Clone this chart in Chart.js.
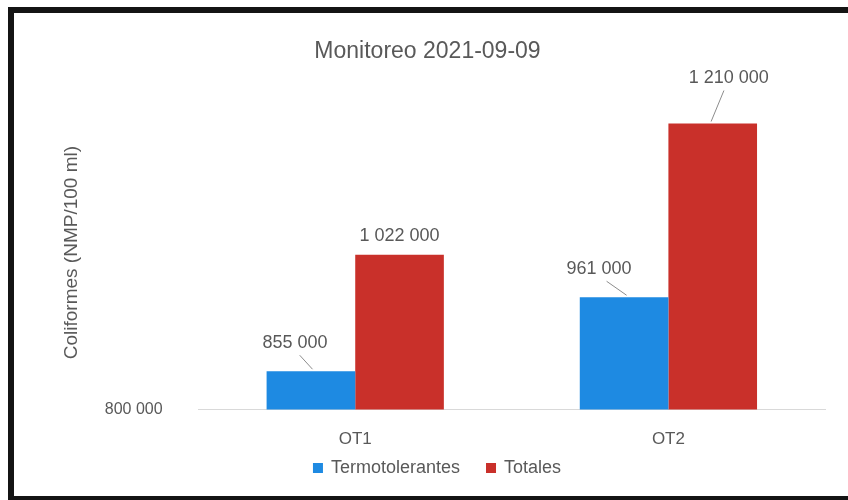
<!DOCTYPE html>
<html>
<head>
<meta charset="utf-8">
<script src="https://cdn.jsdelivr.net/npm/chart.js@4/dist/chart.umd.min.js"></script>
<style>
  html, body { margin: 0; padding: 0; background: #fff; }
  #wrap { position: relative; width: 848px; height: 500px; overflow: hidden; }
  #wrap canvas { position: absolute; left: 0; top: 0; }
  /* marco negro alrededor del gráfico */
  #marco {
    position: absolute; left: 8px; top: 7px; width: 860px; height: 483px;
    border: 6px solid #141414; pointer-events: none;
  }
</style>
</head>
<body>
<div id="wrap">
  <canvas id="grafico" width="848" height="500"></canvas>
  <div id="marco"></div>
</div>
<script>
// Datos del monitoreo
const puntos = ['OT1', 'OT2'];
const termotolerantes = [855000, 961000];
const totales = [1022000, 1210000];
const ejeMin = 800000;
const ejeMax = 1250000;

const gris = '#595959';
const fuente = "'Liberation Sans', Arial, sans-serif";

// Desplazamiento de cada etiqueta respecto a la parte superior de su barra [dx, dy]
const desplazEtiquetas = [
    [[-16, -28], [-25, -28]],
    [[0, -19], [16, -45]]
];

function formatoMiles(v) {
    return String(v).replace(/\B(?=(\d{3})+(?!\d))/g, ' ');
}

// Plugin para escribir los valores sobre las barras con su línea guía
const etiquetasValor = {
    id: 'etiquetasValor',
    afterDatasetsDraw(chart) {
        const ctx = chart.ctx;
        ctx.save();
        ctx.font = '18px ' + fuente;
        ctx.fillStyle = gris;
        ctx.textAlign = 'center';
        ctx.textBaseline = 'middle';
        chart.data.datasets.forEach((ds, i) => {
            const meta = chart.getDatasetMeta(i);
            meta.data.forEach((barra, j) => {
                const [dx, dy] = desplazEtiquetas[i][j];
                const x = barra.x + dx;
                const y = barra.y + dy;
                ctx.fillText(formatoMiles(ds.data[j]), x, y);
                // línea guía cuando la etiqueta queda lejos de la barra
                if (dy < -20) {
                    ctx.strokeStyle = '#8c8c8c';
                    ctx.lineWidth = 1;
                    ctx.beginPath();
                    ctx.moveTo(x + dx * -0.3, y + 12);
                    ctx.lineTo(barra.x + dx * -0.1, barra.y - 2);
                    ctx.stroke();
                }
            });
        });
        ctx.restore();
    }
};

// Leyenda dibujada a mano, más pegada a los nombres del eje X
const leyendaPropia = {
    id: 'leyendaPropia',
    afterDraw(chart) {
        const ctx = chart.ctx;
        const caja = 10, hueco = 8, sep = 26;
        ctx.save();
        ctx.font = '18px ' + fuente;
        ctx.textBaseline = 'middle';
        const y = chart.height - 32;
        const items = chart.data.datasets.map(ds => ({
            texto: ds.label,
            color: ds.backgroundColor,
            ancho: ctx.measureText(ds.label).width
        }));
        const total = items.reduce((s, it) => s + caja + hueco + it.ancho, 0) + sep * (items.length - 1);
        let x = 437 - total / 2;
        items.forEach(it => {
            ctx.fillStyle = it.color;
            ctx.fillRect(x, y - caja / 2, caja, caja);
            ctx.fillStyle = gris;
            ctx.fillText(it.texto, x + caja + hueco, y);
            x += caja + hueco + it.ancho + sep;
        });
        ctx.restore();
    }
};

const config = {
    type: 'bar',
    data: {
        labels: puntos,
        datasets: [
            {
                label: 'Termotolerantes',
                data: termotolerantes,
                backgroundColor: '#1E8AE2',
                categoryPercentage: 0.566,
                barPercentage: 1.0
            },
            {
                label: 'Totales',
                data: totales,
                backgroundColor: '#C9302A',
                categoryPercentage: 0.566,
                barPercentage: 1.0
            }
        ]
    },
    options: {
        responsive: false,
        animation: false,
        layout: { padding: { top: 38, bottom: 38, left: 30, right: 23 } },
        plugins: {
            title: {
                display: true,
                text: 'Monitoreo 2021-09-09',
                color: gris,
                font: { family: fuente, size: 23, weight: 'normal' },
                padding: { top: 0, bottom: 30 }
            },
            legend: { display: false },
            tooltip: { enabled: false }
        },
        scales: {
            x: {
                grid: { display: false },
                border: { color: '#d9d9d9', width: 1 },
                ticks: { color: gris, font: { family: fuente, size: 17 }, padding: 12 }
            },
            y: {
                min: ejeMin,
                max: ejeMax,
                grid: { display: false, tickLength: 16 },
                border: { display: false },
                afterBuildTicks(scale) {
                    scale.ticks = [{ value: ejeMin }];
                },
                ticks: {
                    color: gris,
                    font: { family: fuente, size: 16 },
                    padding: 20,
                    callback: v => formatoMiles(v)
                },
                title: {
                    display: true,
                    text: 'Coliformes (NMP/100 ml)',
                    color: gris,
                    font: { family: fuente, size: 19 },
                    padding: { top: 30, bottom: 2 }
                }
            }
        }
    },
    plugins: [etiquetasValor, leyendaPropia]
};

const grafico = new Chart(document.getElementById('grafico'), config);
</script>
</body>
</html>
